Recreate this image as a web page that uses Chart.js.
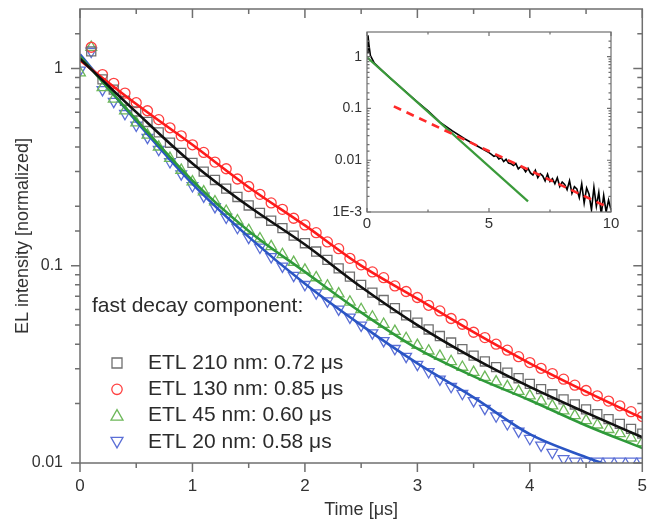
<!DOCTYPE html>
<html>
<head>
<meta charset="utf-8">
<script src="https://cdn.jsdelivr.net/npm/chart.js@4.4.1/dist/chart.umd.min.js"></script>
<style>
  body { margin: 0; background: #fff; }
  #wrap { position: relative; width: 650px; height: 526px; }
  #main { position: absolute; left: 0; top: 0; }
  #inset { position: absolute; left: 322px; top: 24px; }
</style>
</head>
<body>
<div id="wrap">
  <canvas id="main" width="650" height="526"></canvas>
  <canvas id="inset" width="300" height="216"></canvas>
</div>
<script>
// main plot: EL decay, markers every 0.1 us, fits every 0.5 us
const markerTimes = [0, 0.1, 0.2, 0.3, 0.4, 0.5, 0.6, 0.7, 0.8, 0.9, 1, 1.1, 1.2, 1.3, 1.4, 1.5, 1.6, 1.7, 1.8, 1.9, 2,
  2.1, 2.2, 2.3, 2.4, 2.5, 2.6, 2.7, 2.8, 2.9, 3, 3.1, 3.2, 3.3, 3.4, 3.5, 3.6, 3.7, 3.8, 3.9, 4,
  4.1, 4.2, 4.3, 4.4, 4.5, 4.6, 4.7, 4.8, 4.9, 5];

const etl210 = [null, 1.22, 0.88, 0.78, 0.685, 0.605, 0.535, 0.474, 0.42, 0.373, 0.332,
  0.30, 0.272, 0.246, 0.223, 0.202, 0.185, 0.169, 0.155, 0.142, 0.130,
  0.118, 0.107, 0.097, 0.088, 0.080, 0.073, 0.067, 0.061, 0.056, 0.0515,
  0.0475, 0.044, 0.0408, 0.0378, 0.035, 0.0327, 0.0306, 0.0287, 0.0269, 0.0252,
  0.0237, 0.0223, 0.021, 0.0198, 0.0187, 0.0177, 0.0167, 0.0158, 0.0149, 0.0141];
const etl130 = [null, 1.28, 0.93, 0.84, 0.75, 0.67, 0.61, 0.55, 0.50, 0.455, 0.41,
  0.375, 0.335, 0.31, 0.275, 0.252, 0.230, 0.208, 0.193, 0.174, 0.161,
  0.147, 0.132, 0.122, 0.109, 0.101, 0.093, 0.087, 0.079, 0.074, 0.069,
  0.063, 0.059, 0.054, 0.0505, 0.046, 0.0432, 0.0400, 0.0373, 0.0346, 0.0323,
  0.0302, 0.0284, 0.0266, 0.0248, 0.0233, 0.0219, 0.0206, 0.0195, 0.0182, 0.0172];
const etl45 = [0.95, 1.28, 0.80, 0.70, 0.61, 0.53, 0.46, 0.40, 0.35, 0.305, 0.266,
  0.237, 0.211, 0.189, 0.169, 0.151, 0.137, 0.125, 0.114, 0.104, 0.095,
  0.087, 0.079, 0.072, 0.0655, 0.060, 0.055, 0.0505, 0.0465, 0.0428, 0.0395,
  0.037, 0.0348, 0.0327, 0.0306, 0.0288, 0.0272, 0.0258, 0.0244, 0.0231, 0.0219,
  0.0206, 0.0195, 0.0184, 0.0174, 0.0164, 0.0156, 0.0148, 0.0141, 0.0134, 0.0127];
const etl20 = [0.98, 1.22, 0.78, 0.68, 0.59, 0.515, 0.447, 0.388, 0.336, 0.292, 0.254,
  0.225, 0.199, 0.176, 0.156, 0.139, 0.124, 0.111, 0.0995, 0.0893, 0.0802,
  0.0728, 0.0662, 0.0602, 0.0548, 0.0499, 0.0456, 0.0417, 0.038, 0.0347, 0.0316,
  0.029, 0.0266, 0.0244, 0.0225, 0.0207, 0.0189, 0.0173, 0.0158, 0.0145, 0.0133,
  0.0123, 0.0113, 0.0105, 0.0102, 0.0102, 0.0102, 0.0102, 0.0102, 0.0102, 0.0102];

const fitTimes = [0, 0.5, 1, 1.5, 2, 2.5, 3, 3.5, 4, 4.5, 5];
const fit210 = [1.12, 0.60, 0.33, 0.20, 0.128, 0.078, 0.050, 0.034, 0.0243, 0.018, 0.0135];
const fit130 = [1.10, 0.66, 0.41, 0.25, 0.16, 0.10, 0.068, 0.046, 0.032, 0.023, 0.0169];
const fit45 = [1.15, 0.55, 0.27, 0.15, 0.093, 0.058, 0.038, 0.0275, 0.0208, 0.0155, 0.0119];
const fit20 = [1.18, 0.54, 0.26, 0.14, 0.081, 0.050, 0.032, 0.0215, 0.0140, 0.0107, 0.0085];

const seriesLabels = ['ETL 210 nm: 0.72 μs', 'ETL 130 nm: 0.85 μs', 'ETL 45 nm: 0.60 μs', 'ETL 20 nm: 0.58 μs'];
const legendTitle = 'fast decay component:';
const yTickValues = [0.01, 0.1, 1];
const yTickLabels = ['0.01', '0.1', '1'];

// inset: full decay of the 210 nm device
const insetT = [0, 0.04, 0.08, 0.14, 0.3, 0.6, 1, 1.5, 2, 2.5, 3, 3.5, 4, 4.5, 5,
  5.1, 5.2, 5.3, 5.4, 5.5, 5.6, 5.7, 5.8, 5.9, 6, 6.1, 6.2, 6.3, 6.4, 6.5, 6.6, 6.7, 6.8, 6.9, 7,
  7.1, 7.2, 7.3, 7.4, 7.5, 7.6, 7.7, 7.8, 7.9, 8, 8.1, 8.2, 8.3, 8.4, 8.5, 8.6, 8.7, 8.8, 8.9, 9,
  9.1, 9.2, 9.3, 9.4, 9.5, 9.6, 9.7, 9.8, 9.9, 10];
const insetEL = [1.2, 2.6, 1.7, 1.05, 0.75, 0.55, 0.37, 0.23, 0.142, 0.09, 0.054, 0.037, 0.026, 0.019, 0.0140,
  0.0130, 0.0119, 0.0124, 0.0106, 0.0112, 0.0094, 0.0104, 0.0088, 0.0086, 0.0079,
  0.0086, 0.0068, 0.0075, 0.0071, 0.0060, 0.0070, 0.0057, 0.0052, 0.0064, 0.0046,
  0.0055, 0.0050, 0.0040, 0.0054, 0.0039, 0.0044, 0.0035, 0.0046, 0.0031, 0.0038,
  0.0034, 0.0027, 0.0040, 0.0023, 0.0031, 0.0028, 0.0019, 0.0035, 0.0015, 0.0029,
  0.0022, 0.0011, 0.0030, 0.0013, 0.0024, 0.0009, 0.0021, 0.0010, 0.0017, 0.0011];
const insetFastT = [0, 6.6];
const insetFast = [0.97, 0.0016];
const insetSlowT = [1.1, 9.85];
const insetSlow = [0.11, 0.00125];
const insetYTickValues = [0.001, 0.01, 0.1, 1];
const insetYTickLabels = ['1E-3', '0.01', '0.1', '1'];

const font = '"Liberation Sans", Arial, sans-serif';
const textColor = '#333';
const axisColor = '#6f6f6f';
Chart.defaults.font.family = font;
Chart.defaults.color = textColor;

const markerColors = ['#707070', '#ff4040', '#6db85a', '#5b6fd6'];
const lineColors = ['#111111', '#ff1a1a', '#2f9a3a', '#2a55c4'];
const markerShapes = ['rect', 'circle', 'triangle', 'triangleDown'];

const pts = (xs, ys) => xs.map((x, i) => ({ x, y: ys[i] })).filter(p => p.y != null);
const labelFor = (vals, labels) => v => {
  const i = vals.findIndex(t => Math.abs(v - t) / t < 1e-6);
  return i < 0 ? '' : labels[i];
};
// fixed axis box sizes, no extra edge padding for half-labels
const fixSize = (w, h) => s => {
  if (w != null) s.width = w;
  if (h != null) s.height = h;
  s.paddingTop = 0; s.paddingBottom = 0; s.paddingLeft = 0; s.paddingRight = 0;
};

// box around the plot with mirror ticks
const frameTicks = {
  id: 'frameTicks',
  afterDatasetsDraw(chart, args, o) {
    const { ctx, chartArea: a, scales: { x, y } } = chart;
    const majorX = v => Math.abs(v / o.xMajor - Math.round(v / o.xMajor)) < 1e-6;
    const majorY = v => { const l = Math.log10(v); return Math.abs(l - Math.round(l)) < 1e-6; };
    ctx.save();
    ctx.strokeStyle = axisColor;
    ctx.lineWidth = o.lineWidth;
    ctx.strokeRect(a.left, a.top, a.right - a.left, a.bottom - a.top);
    ctx.beginPath();
    x.ticks.forEach(t => {
      const px = x.getPixelForValue(t.value);
      const len = majorX(t.value) ? o.major : o.minor;
      ctx.moveTo(px, a.bottom); ctx.lineTo(px, a.bottom + o.dir * len);
      ctx.moveTo(px, a.top); ctx.lineTo(px, a.top + len);
    });
    y.ticks.forEach(t => {
      const py = y.getPixelForValue(t.value);
      if (py < a.top + 1) return;
      const len = majorY(t.value) ? o.major : o.minor;
      ctx.moveTo(a.left, py); ctx.lineTo(a.left - o.dir * len, py);
      ctx.moveTo(a.right, py); ctx.lineTo(a.right - len, py);
    });
    ctx.stroke();
    ctx.restore();
  }
};

function drawSymbol(ctx, shape, x, y, color) {
  ctx.strokeStyle = color;
  ctx.lineWidth = 1.3;
  ctx.beginPath();
  if (shape === 'rect') ctx.rect(x - 5, y - 5, 10, 10);
  else if (shape === 'circle') ctx.arc(x, y, 5.2, 0, Math.PI * 2);
  else if (shape === 'triangle') { ctx.moveTo(x, y - 6); ctx.lineTo(x + 6, y + 4.5); ctx.lineTo(x - 6, y + 4.5); ctx.closePath(); }
  else { ctx.moveTo(x, y + 6); ctx.lineTo(x + 6, y - 4.5); ctx.lineTo(x - 6, y - 4.5); ctx.closePath(); }
  ctx.stroke();
}

const decayLegend = {
  id: 'decayLegend',
  afterDraw(chart) {
    const { ctx } = chart;
    ctx.save();
    ctx.font = '21px ' + font;
    ctx.fillStyle = '#2b2b2b';
    ctx.textBaseline = 'middle';
    ctx.fillText(legendTitle, 92, 306);
    seriesLabels.forEach((label, i) => {
      const yy = 363 + i * 26.3;
      drawSymbol(ctx, markerShapes[i], 117, yy, markerColors[i]);
      ctx.fillStyle = '#2b2b2b';
      ctx.fillText(label, 148, yy);
    });
    ctx.restore();
  }
};

const markerSeries = [etl210, etl130, etl45, etl20];
const fitSeries = [fit210, fit130, fit45, fit20];
const pointSizes = [6.4, 5, 6.2, 6.2];

const mainDatasets = [];
markerSeries.forEach((s, i) => {
  mainDatasets.push({
    label: seriesLabels[i],
    data: pts(markerTimes, s),
    showLine: false,
    pointStyle: markerShapes[i] === 'triangleDown' ? 'triangle' : markerShapes[i],
    rotation: markerShapes[i] === 'triangleDown' ? 180 : 0,
    pointRadius: pointSizes[i],
    pointBorderColor: markerColors[i],
    pointBackgroundColor: 'rgba(0,0,0,0)',
    pointBorderWidth: 1.3,
    order: 2
  });
});
fitSeries.forEach((s, i) => {
  mainDatasets.push({
    label: seriesLabels[i] + ' fit',
    data: pts(fitTimes, s),
    borderColor: lineColors[i],
    borderWidth: 2.6,
    pointRadius: 0,
    cubicInterpolationMode: 'monotone',
    order: 1
  });
});

new Chart(document.getElementById('main'), {
  type: 'line',
  data: { datasets: mainDatasets },
  plugins: [frameTicks, decayLegend],
  options: {
    responsive: false,
    animation: false,
    layout: { padding: { top: 9, right: 6, left: 0, bottom: 0 } },
    plugins: {
      legend: { display: false },
      tooltip: { enabled: false },
      frameTicks: { xMajor: 1, major: 9, minor: 5, dir: 1, lineWidth: 1.5 }
    },
    scales: {
      x: {
        type: 'linear', min: 0, max: 5,
        afterFit: fixSize(null, 63),
        grid: { display: false, drawTicks: false },
        border: { display: false },
        ticks: {
          stepSize: 0.5, autoSkip: false, maxRotation: 0, padding: 13,
          font: { size: 17 }, color: textColor,
          callback: v => Number.isInteger(v) ? String(v) : ''
        },
        title: { display: true, text: 'Time [μs]', font: { size: 18 }, color: textColor, padding: { top: 0, bottom: 5 } }
      },
      y: {
        type: 'logarithmic', min: 0.01, max: 2,
        afterFit: fixSize(80, null),
        grid: { display: false, drawTicks: false },
        border: { display: false },
        ticks: {
          autoSkip: false, padding: 17, font: { size: 16 }, color: textColor,
          callback: labelFor(yTickValues, yTickLabels)
        },
        title: { display: true, text: 'EL intensity [normalized]', font: { size: 18 }, color: textColor, padding: { top: 12, bottom: 0 } }
      }
    }
  }
});

new Chart(document.getElementById('inset'), {
  type: 'line',
  data: {
    datasets: [
      { data: pts(insetT, insetEL), borderColor: '#000', borderWidth: 1.6, pointRadius: 0, order: 3 },
      { data: pts(insetFastT, insetFast), borderColor: '#3a9a3a', borderWidth: 2.2, pointRadius: 0, order: 2 },
      { data: pts(insetSlowT, insetSlow), borderColor: '#ff2a2a', borderWidth: 2.6, borderDash: [8, 6], pointRadius: 0, order: 1 }
    ]
  },
  plugins: [frameTicks],
  options: {
    responsive: false,
    animation: false,
    layout: { padding: { top: 8, right: 11, left: 0, bottom: 0 } },
    plugins: {
      legend: { display: false },
      tooltip: { enabled: false },
      frameTicks: { xMajor: 5, major: 4, minor: 2.5, dir: -1, lineWidth: 1.2 }
    },
    scales: {
      x: {
        type: 'linear', min: 0, max: 10,
        afterFit: fixSize(null, 28),
        grid: { display: false, drawTicks: false },
        border: { display: false },
        ticks: {
          stepSize: 2.5, autoSkip: false, maxRotation: 0, padding: 3,
          font: { size: 15 }, color: textColor,
          callback: v => v % 5 === 0 ? String(v) : ''
        }
      },
      y: {
        type: 'logarithmic', min: 0.001, max: 3,
        afterFit: fixSize(45, null),
        grid: { display: false, drawTicks: false },
        border: { display: false },
        ticks: {
          autoSkip: false, padding: 5, font: { size: 14 }, color: textColor,
          callback: labelFor(insetYTickValues, insetYTickLabels)
        }
      }
    }
  }
});
</script>
</body>
</html>
